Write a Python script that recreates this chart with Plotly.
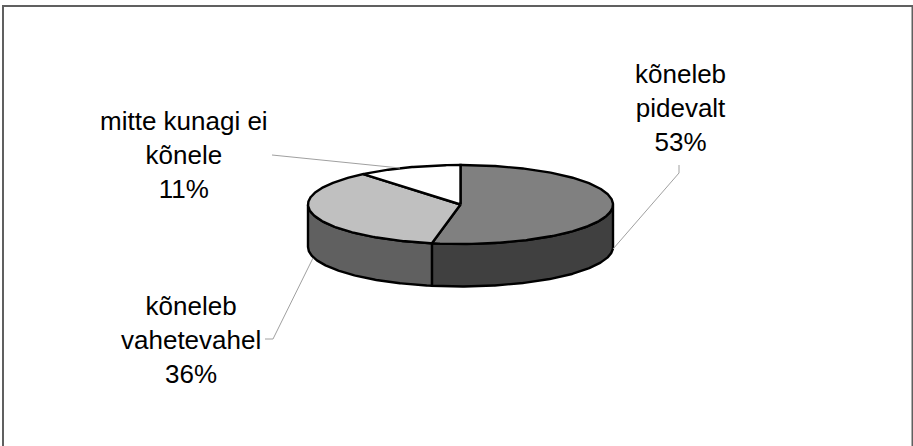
import numpy as np
import plotly.graph_objects as go

categories = ["kõneleb pidevalt", "kõneleb vahetevahel", "mitte kunagi ei kõnele"]
values = [53, 36, 11]
label_texts = ["kõneleb<br>pidevalt<br>53%", "kõneleb<br>vahetevahel<br>36%", "mitte kunagi ei<br>kõnele<br>11%"]
top_colors = ["#808080", "#c0c0c0", "#ffffff"]
side_colors = ["#404040", "#606060", "#ffffff"]

W, H = 913, 446
CX, CY, RX, RY, DEPTH = 460.5, 204.5, 152.5, 39.5, 42.5
EDGE = "#000000"


def rim(a0, a1, dy=0.0):
    t = np.radians(np.linspace(a0, a1, max(int(abs(a1 - a0)) * 2, 2)))
    return CX + RX * np.sin(t), CY - RY * np.cos(t) + dy


fig = go.Figure()
shares = np.array(values, dtype=float) / sum(values) * 360
ends = np.cumsum(shares)
starts = ends - shares

# Visible outer wall: the front half of the rim, 90..270 degrees clockwise from the top
for a0, a1, col, name in zip(starts, ends, side_colors, categories):
    lo, hi = max(a0, 90), min(a1, 270)
    if hi <= lo:
        continue
    xt, yt = rim(lo, hi)
    xb, yb = rim(hi, lo, DEPTH)
    fig.add_trace(go.Scatter(
        x=np.r_[xt, xb, xt[0]], y=np.r_[yt, yb, yt[0]], mode="lines", fill="toself",
        fillcolor=col, line=dict(color=EDGE, width=2.4), name=name, hoverinfo="skip", showlegend=False))

# Top face
for a0, a1, col, name in zip(starts, ends, top_colors, categories):
    xr, yr = rim(a0, a1)
    fig.add_trace(go.Scatter(
        x=np.r_[CX, xr, CX], y=np.r_[CY, yr, CY], mode="lines", fill="toself",
        fillcolor=col, line=dict(color=EDGE, width=2.4), name=name, hoverinfo="skip", showlegend=False))

shapes = [
    dict(type="rect", xref="x", yref="y", x0=3, y0=6, x1=912.5, y1=470,
         line=dict(color="#606060", width=2), layer="below"),
    dict(type="path", xref="x", yref="y", path="M 613 249 L 679 173 L 679 165",
         line=dict(color="#a0a0a0", width=1)),
    dict(type="path", xref="x", yref="y", path="M 313 258 L 273 339 L 265 339",
         line=dict(color="#a0a0a0", width=1)),
    dict(type="path", xref="x", yref="y", path="M 272 155 L 400 168",
         line=dict(color="#a0a0a0", width=1)),
]

label_pos = [(680, 108), (190.5, 340), (184, 155)]
annotations = [
    dict(x=x, y=y, xref="x", yref="y", text=t, showarrow=False, align="center",
         font=dict(family="Liberation Sans, Arial, sans-serif", size=26, color="#000000"))
    for (x, y), t in zip(label_pos, label_texts)
]

fig.update_layout(
    width=W, height=H, margin=dict(l=0, r=0, t=0, b=0),
    paper_bgcolor="#ffffff", plot_bgcolor="#ffffff", showlegend=False,
    xaxis=dict(range=[0, W], visible=False, fixedrange=True),
    yaxis=dict(range=[H, 0], visible=False, fixedrange=True),
    shapes=shapes, annotations=annotations,
)
fig.write_html("out.html", config=dict(displayModeBar=False),
               post_script="document.body.style.margin='0';document.body.style.overflow='hidden';")
